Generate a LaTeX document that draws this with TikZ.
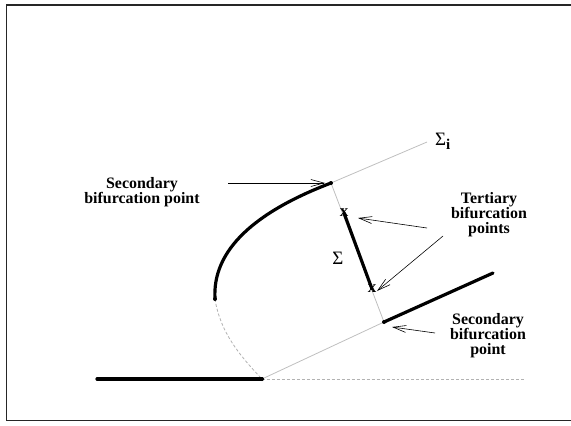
\documentclass[tikz,border=0pt]{standalone}
\usepackage{fontspec}
\setmainfont{Liberation Serif}
\usetikzlibrary{arrows.meta}
\begin{document}
\begin{tikzpicture}[x=1bp,y=-1bp,
  lbl/.style={font=\bfseries\fontsize{16}{15}\selectfont,align=center,inner sep=0pt},
  thin gray/.style={draw=black!25,line width=0.8pt},
  dgray/.style={draw=black!30,line width=0.8pt,dash pattern=on 3pt off 2pt},
  thickline/.style={line width=3.2pt,line cap=round},
  ptr/.style={line width=0.6pt,-{Straight Barb[length=13pt,width=7pt]}},
  dot/.style={circle,fill=black,inner sep=0pt,minimum size=4pt},
  xm/.style={inner sep=0pt,font=\bfseries\fontsize{17}{17}\selectfont},
  sg/.style={inner sep=0pt,font=\fontsize{19}{19}\selectfont}]
\useasboundingbox (0,0) rectangle (571,425);
\draw[line width=1.6pt,black!85] (6.5,5) rectangle (580,420.5);
% points
\coordinate (o) at (262,379);
\coordinate (lt) at (215,299);
\coordinate (s1) at (331,183);
\coordinate (s2) at (384,322);
\coordinate (e2) at (493,273);
\coordinate (si) at (427,142);
\coordinate (x1) at (344,213);
\coordinate (x2) at (372,289);
\coordinate (bl) at (97,379);
\coordinate (br) at (525,379);
% branches
\draw[dgray] (o) -- (br);
\draw[dgray] (lt) .. controls (220,332) and (240,356) .. (o);
\draw[thin gray] (o) -- (s2);
\draw[thin gray] (s1) -- (si);
\draw[thin gray] (s1) -- (s2);
\draw[thickline] (bl) -- (o);
\draw[thickline] (lt) .. controls (212,250) and (255,212) .. (s1);
\draw[thickline] (x1) -- (x2);
\draw[thickline] (s2) -- (e2);
\node[dot] (do) at (o) {};
\node[dot] (dlt) at (lt) {};
\node[dot] (ds1) at (s1) {};
\node[dot] (ds2) at (s2) {};
\node[xm] (mx1) at (x1) {x};
\node[xm] (mx2) at (x2) {x};
% labels
\node[sg] (sig) at (338,258) {Σ};
\node[sg,anchor=base west] (sigi) at (435,145) {Σ\raisebox{-5pt}{\bfseries\fontsize{15}{15}\selectfont i}};
\node[lbl] (L1) at (142,192) {Secondary\\bifurcation point};
\node[lbl] (L2) at (489,215) {Tertiary\\bifurcation\\points};
\node[lbl] (L3) at (488,335.5) {Secondary\\bifurcation\\point};
% pointers
\coordinate (a1s) at (228,183);
\coordinate (a1e) at (325,183);
\draw[ptr] (a1s) -- (a1e);
\coordinate (a2s) at (427,228);
\coordinate (a2e) at (358,218);
\draw[ptr] (a2s) -- (a2e);
\coordinate (a3s) at (443,236);
\coordinate (a3e) at (377,291);
\draw[ptr] (a3s) -- (a3e);
\coordinate (a4s) at (435,333);
\coordinate (a4e) at (392,327);
\draw[ptr] (a4s) -- (a4e);
\end{tikzpicture}
\end{document}
